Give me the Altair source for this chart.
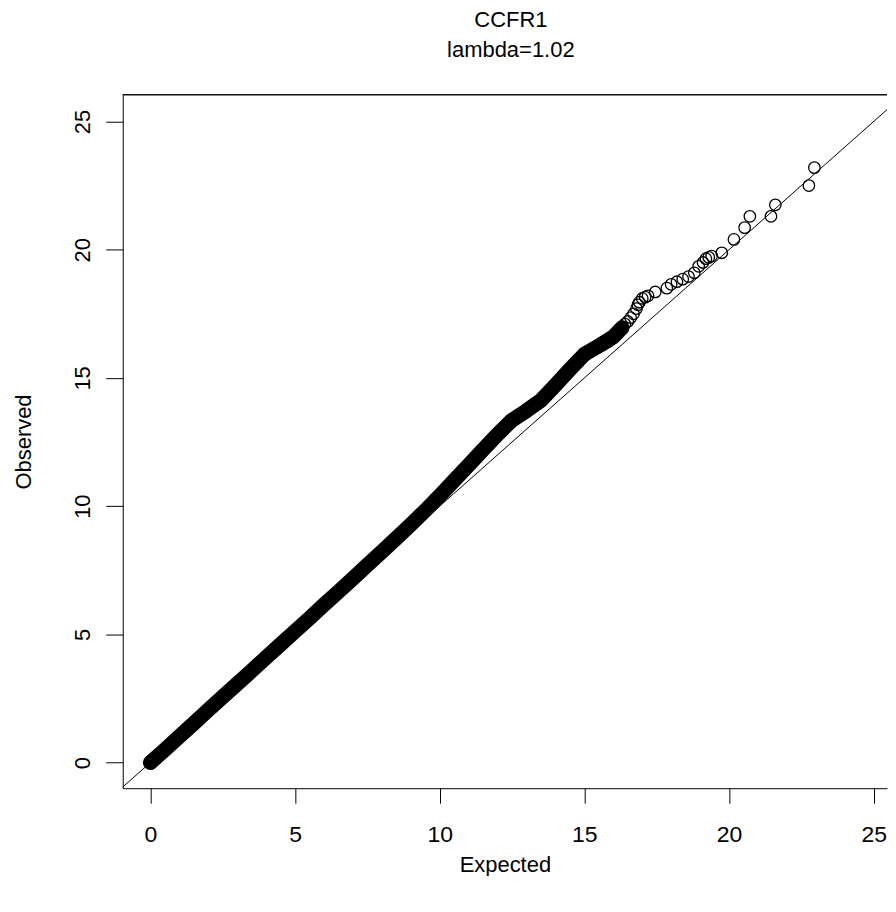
import altair as alt
import pandas as pd

# ---- data ----
# dense, overplotted band (expected, observed)
band_expected = [0, 0.5, 1, 1.5, 2, 2.5, 3, 3.5, 4, 4.5, 5, 5.5, 6, 6.5, 7, 7.5,
                 8, 8.5, 9, 9.5, 10, 10.5, 11, 11.5, 12, 12.5, 13, 13.5, 14,
                 14.5, 15, 15.5, 16.0, 16.3]
band_observed = [0.0, 0.5, 1.02, 1.53, 2.05, 2.56, 3.07, 3.58, 4.1, 4.61, 5.12,
                 5.63, 6.15, 6.66, 7.18, 7.7, 8.22, 8.75, 9.28, 9.83, 10.4,
                 11.0, 11.6, 12.2, 12.8, 13.35, 13.72, 14.12, 14.72, 15.33,
                 15.92, 16.25, 16.6, 16.95]

# sparse tail points (expected, observed)
tail_expected = [15.2, 15.35, 15.5, 15.65, 15.8, 15.9, 16.0, 16.1, 16.2, 16.3,
                 16.4, 16.5, 16.6, 16.7, 16.8, 16.85, 16.9, 17.0, 17.1, 17.2,
                 17.45, 17.85, 18.0, 18.2, 18.4, 18.6, 18.8, 18.95, 19.1, 19.2,
                 19.3, 19.4, 19.75, 20.17, 20.54, 20.72, 21.45, 21.6, 22.76, 22.95]
tail_observed = [16.05, 16.15, 16.25, 16.3, 16.4, 16.5, 16.6, 16.75, 16.9, 17.0,
                 17.1, 17.2, 17.35, 17.5, 17.7, 17.85, 17.95, 18.1, 18.15, 18.2,
                 18.35, 18.5, 18.65, 18.75, 18.85, 18.95, 19.1, 19.35, 19.5,
                 19.65, 19.7, 19.75, 19.88, 20.4, 20.86, 21.3, 21.3, 21.75,
                 22.5, 23.2]

diag_ends = [-2, 30]

title_text = "CCFR1"
subtitle_text = "lambda=1.02"
x_ticks = [0, 5, 10, 15, 20, 25]
y_ticks = [0, 5, 10, 15, 20, 25]

FONT = "Liberation Sans"
PLOT_W = 766
PLOT_H = 695

band = pd.DataFrame({"Expected": band_expected, "Observed": band_observed})
pts = pd.DataFrame({"Expected": band_expected + tail_expected,
                    "Observed": band_observed + tail_observed})
diag = pd.DataFrame({"Expected": diag_ends, "Observed": diag_ends})

xscale = alt.Scale(domain=[-0.955, 25.46], nice=False, zero=False)
yscale = alt.Scale(domain=[-1.0, 26.04], nice=False, zero=False)

xaxis = alt.Axis(values=x_ticks, grid=False, tickSize=15, tickColor="black",
                 domainColor="black", labelFont=FONT, labelFontSize=23,
                 labelColor="black", labelPadding=20, titleFont=FONT,
                 titleFontSize=22, titleFontWeight="normal", titleColor="black",
                 titlePadding=8, labelFlush=False)
yaxis = alt.Axis(values=y_ticks, grid=False, tickSize=17, tickColor="black",
                 domainColor="black", labelFont=FONT, labelFontSize=22,
                 labelColor="black", labelPadding=11, labelAngle=270,
                 labelAlign="center", labelBaseline="bottom",
                 titleFont=FONT, titleFontSize=22, titleFontWeight="normal",
                 titleColor="black", titlePadding=36, labelFlush=False)

diag_line = alt.Chart(diag).mark_line(color="black", strokeWidth=1, clip=True).encode(
    x=alt.X("Expected:Q", scale=xscale, axis=xaxis, title="Expected"),
    y=alt.Y("Observed:Q", scale=yscale, axis=yaxis, title="Observed"),
)

band_line = alt.Chart(band).mark_line(color="black", strokeWidth=15,
                                      strokeCap="round", strokeJoin="round",
                                      clip=True).encode(
    x=alt.X("Expected:Q", scale=xscale),
    y=alt.Y("Observed:Q", scale=yscale),
)

points = alt.Chart(pts).mark_point(shape="circle", size=132, filled=False,
                                   color="black", strokeWidth=1.3,
                                   opacity=1, clip=True).encode(
    x=alt.X("Expected:Q", scale=xscale),
    y=alt.Y("Observed:Q", scale=yscale),
)

# top edge of the plot box (frame decoration)
top_edge = alt.Chart(diag).mark_rule(color="black", strokeWidth=1).encode(
    x=alt.value(0), x2=alt.value(PLOT_W), y=alt.value(0)
)

chart = alt.layer(diag_line, band_line, points, top_edge).properties(
    width=PLOT_W,
    height=PLOT_H,
    background="white",
    padding={"left": 5, "top": 0, "right": 0, "bottom": 0},
    title=alt.TitleParams(text=title_text, subtitle=subtitle_text,
                          font=FONT, fontSize=22, fontWeight="normal",
                          color="black", subtitleFont=FONT, subtitleFontSize=22,
                          subtitleColor="black", subtitleFontWeight="normal",
                          subtitlePadding=8, anchor="middle", frame="group",
                          offset=32, dx=6),
).configure_view(stroke=None)

chart.save("out.html", embed_options={"renderer": "svg", "actions": False})
